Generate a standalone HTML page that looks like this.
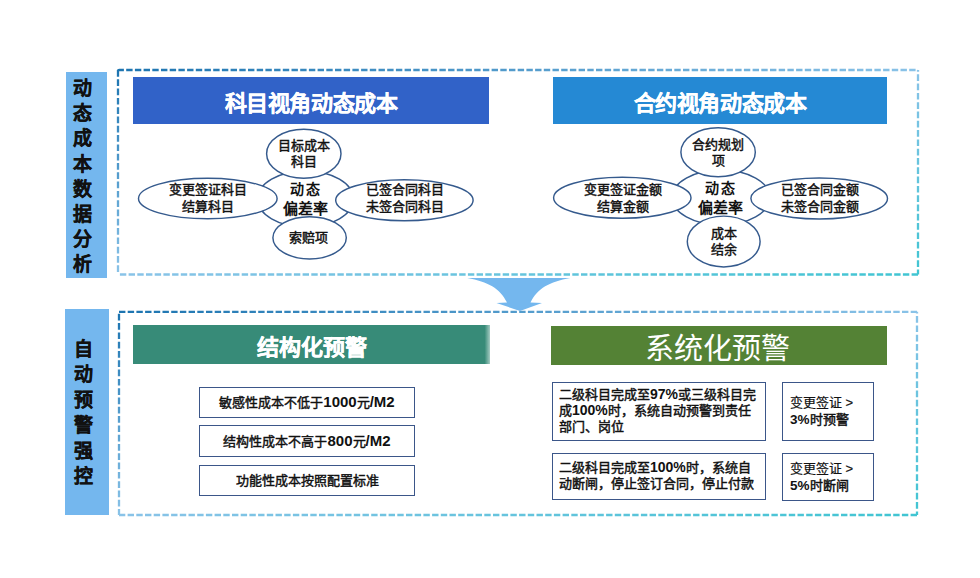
<!DOCTYPE html>
<html lang="zh-CN"><head><meta charset="utf-8">
<style>
html,body{margin:0;padding:0;background:#fff;}
body{width:980px;height:578px;position:relative;overflow:hidden;font-family:"Liberation Sans",sans-serif;color:#111;}
.a{position:absolute;}
.side{position:absolute;background:#74b7ee;}
.sidetxt{position:absolute;font-size:19px;font-weight:bold;-webkit-text-stroke:0.3px #111;line-height:25px;width:24px;text-align:center;color:#111;}
.hdr{position:absolute;color:#fff;text-align:center;font-weight:bold;-webkit-text-stroke:0.3px #fff;}
.t{position:absolute;text-align:center;font-weight:normal;-webkit-text-stroke:0.45px #111;white-space:nowrap;}
.n{display:inline-block;font-weight:bold;line-height:10px;-webkit-text-stroke:0;}
.box{position:absolute;box-sizing:border-box;border:1.6px solid #3b5689;background:#fff;}
svg{position:absolute;left:0;top:0;}
</style></head><body>
<svg width="980" height="578" viewBox="0 0 980 578">
<defs>
<linearGradient id="gb1" gradientUnits="userSpaceOnUse" x1="118" y1="70" x2="216.1" y2="453.9"><stop offset="0" stop-color="#1c74b0"/><stop offset="0.5" stop-color="#8ac3e8"/><stop offset="1" stop-color="#40c5d2"/></linearGradient>
<linearGradient id="gb2" gradientUnits="userSpaceOnUse" x1="119" y1="311.8" x2="216.2" y2="693.5"><stop offset="0" stop-color="#1c74b0"/><stop offset="0.5" stop-color="#8ac3e8"/><stop offset="1" stop-color="#40c5d2"/></linearGradient>
<linearGradient id="tealfade" x1="0" y1="0" x2="1" y2="0">
<stop offset="0.985" stop-color="#378b78"/>
<stop offset="1" stop-color="#378b78" stop-opacity="0.45"/>
</linearGradient>
</defs>
<!-- sidebars -->
<rect x="66" y="72" width="41" height="206" fill="#74b7ee"/>
<rect x="65" y="309" width="44" height="206" fill="#74b7ee"/>
<!-- dashed boxes -->
<g stroke="url(#gb1)" stroke-width="2.3" fill="none">
<path d="M118,71.2 Q118,70 119.2,70 L918,70" stroke-dasharray="6.4 2.3"/>
<path d="M118,70 L118,274.5" stroke-dasharray="6.7 2.6"/>
<path d="M918,274.5 L118,274.5" stroke-dasharray="6.4 2.3"/>
<path d="M918,70 L918,274.5" stroke-dasharray="6.7 2.6" stroke-dashoffset="5"/>
</g>
<g stroke="url(#gb2)" stroke-width="2.3" fill="none">
<path d="M119,311.8 L917,311.8" stroke-dasharray="6.4 2.3"/>
<path d="M119,311.8 L119,515" stroke-dasharray="6.7 2.6" stroke-dashoffset="-2"/>
<path d="M917,515 L119,515" stroke-dasharray="6.4 2.3"/>
<path d="M917,311.8 L917,515" stroke-dasharray="6.7 2.6" stroke-dashoffset="5"/>
</g>
<!-- arrow -->
<path d="M467.3,278 L570.2,278 C549.5,282 537.5,288 530.5,302.6 L542,303 L520,311 L496.5,303 L507,302.6 C500,288 488,282 467.3,278 Z" fill="#74b7ee"/>
<!-- headers -->
<rect x="133" y="77" width="356" height="47" fill="#3162c8"/>
<rect x="553" y="77" width="334" height="47" fill="#2589d4"/>
<rect x="133" y="325" width="357" height="39" fill="url(#tealfade)"/>
<rect x="551" y="326" width="336" height="39" fill="#548235"/>
<!-- left diagram ellipses -->
<g fill="#fff" stroke="#355a8d" stroke-width="1.45">
<ellipse cx="305.5" cy="199" rx="48" ry="28"/>
<ellipse cx="303.8" cy="153.8" rx="37.2" ry="24.5"/>
<ellipse cx="207.8" cy="198.5" rx="69.3" ry="20.3"/>
<ellipse cx="404.4" cy="200.2" rx="68.7" ry="20.5"/>
<ellipse cx="309.6" cy="237.8" rx="36.7" ry="21.1"/>
</g>
<!-- right diagram ellipses -->
<g fill="#fff" stroke="#355a8d" stroke-width="1.45">
<ellipse cx="721" cy="197.5" rx="49" ry="27.5"/>
<ellipse cx="718.1" cy="152.2" rx="37.2" ry="24.5"/>
<ellipse cx="622.3" cy="197.8" rx="68.7" ry="20.5"/>
<ellipse cx="819.2" cy="198.5" rx="68.3" ry="20.5"/>
<ellipse cx="723.7" cy="241.5" rx="36.4" ry="25.4"/>
</g>
</svg>

<!-- sidebar text -->
<div class="sidetxt" style="left:70px;top:76px;line-height:25.2px;">动<br>态<br>成<br>本<br>数<br>据<br>分<br>析</div>
<div class="sidetxt" style="left:71px;top:336.5px;line-height:25.5px;">自<br>动<br>预<br>警<br>强<br>控</div>

<!-- headers text -->
<div class="hdr" style="left:133px;top:89px;width:356px;font-size:22px;letter-spacing:-0.4px;line-height:30px;">科目视角动态成本</div>
<div class="hdr" style="left:553px;top:89px;width:334px;font-size:22px;letter-spacing:-0.4px;line-height:30px;">合约视角动态成本</div>
<div class="hdr" style="left:133px;top:333px;width:357px;font-size:22px;line-height:30px;">结构化预警</div>
<div class="hdr" style="left:549px;top:334px;width:336px;font-size:29px;line-height:30px;font-weight:normal;-webkit-text-stroke:0;">系统化预警</div>

<!-- left diagram text -->
<div class="t" style="left:263.5px;top:138px;width:80px;font-size:13px;line-height:16px;">目标成本<br>科目</div>
<div class="t" style="left:138px;top:181px;width:140px;font-size:13px;line-height:17px;">变更签证科目<br>结算科目</div>
<div class="t" style="left:265px;top:179px;width:80px;font-size:14px;line-height:20px;font-weight:bold;-webkit-text-stroke:0;"><span style="letter-spacing:2px;padding-left:2px">动态</span><br><span style="font-size:15px">偏差率</span></div>
<div class="t" style="left:335px;top:181px;width:140px;font-size:13px;line-height:17px;">已签合同科目<br>未签合同科目</div>
<div class="t" style="left:268.5px;top:230px;width:80px;font-size:13px;line-height:16px;">索赔项</div>

<!-- right diagram text -->
<div class="t" style="left:678px;top:137px;width:80px;font-size:13px;line-height:16px;">合约规划<br>项</div>
<div class="t" style="left:553px;top:181px;width:140px;font-size:13px;line-height:17px;">变更签证金额<br>结算金额</div>
<div class="t" style="left:680px;top:178px;width:80px;font-size:14px;line-height:20px;font-weight:bold;-webkit-text-stroke:0;"><span style="letter-spacing:2px;padding-left:2px">动态</span><br><span style="font-size:15px">偏差率</span></div>
<div class="t" style="left:750px;top:181px;width:140px;font-size:13px;line-height:17px;">已签合同金额<br>未签合同金额</div>
<div class="t" style="left:684px;top:226px;width:80px;font-size:13px;line-height:16px;">成本<br>结余</div>

<!-- left boxes -->
<div class="box" style="left:199px;top:387px;width:216px;height:31px;"></div>
<div class="box" style="left:199px;top:425px;width:216px;height:32px;"></div>
<div class="box" style="left:199px;top:465px;width:216px;height:31px;"></div>
<div class="t" style="left:199px;top:394px;width:216px;font-size:13px;line-height:18px;">敏感性成本不低于<span class="n" style="font-size:15px">1000</span>元<span class="n" style="font-size:15px">/M2</span></div>
<div class="t" style="left:199px;top:433px;width:216px;font-size:13px;line-height:18px;">结构性成本不高于<span class="n" style="font-size:15px">800</span>元<span class="n" style="font-size:15px">/M2</span></div>
<div class="t" style="left:199px;top:472px;width:216px;font-size:13px;line-height:18px;">功能性成本按照配置标准</div>

<!-- right boxes -->
<div class="box" style="left:552px;top:382px;width:214px;height:59px;"></div>
<div class="box" style="left:782px;top:382px;width:92px;height:59px;"></div>
<div class="box" style="left:552px;top:453px;width:214px;height:47px;"></div>
<div class="box" style="left:782px;top:453px;width:92px;height:48px;"></div>
<div class="t" style="left:559px;top:387px;text-align:left;font-size:13px;line-height:16px;">二级科目完成至<span class="n" style="font-size:14px">97%</span>或三级科目完<br>成<span class="n" style="font-size:14px">100%</span>时，系统自动预警到责任<br>部门、岗位</div>
<div class="t" style="left:790px;top:395px;text-align:left;font-size:13px;line-height:16.5px;"><span style="font-weight:normal;-webkit-text-stroke:0.2px #111">变更签证 &gt;</span><br><span class="n" style="font-size:13.5px">3%</span>时预警</div>
<div class="t" style="left:559px;top:460px;text-align:left;font-size:13px;line-height:16px;">二级科目完成至<span class="n" style="font-size:14px">100%</span>时，系统自<br>动断闸，停止签订合同，停止付款</div>
<div class="t" style="left:790px;top:461px;text-align:left;font-size:13px;line-height:16.5px;"><span style="font-weight:normal;-webkit-text-stroke:0.2px #111">变更签证 &gt;</span><br><span class="n" style="font-size:13.5px">5%</span>时断闸</div>
</body></html>
